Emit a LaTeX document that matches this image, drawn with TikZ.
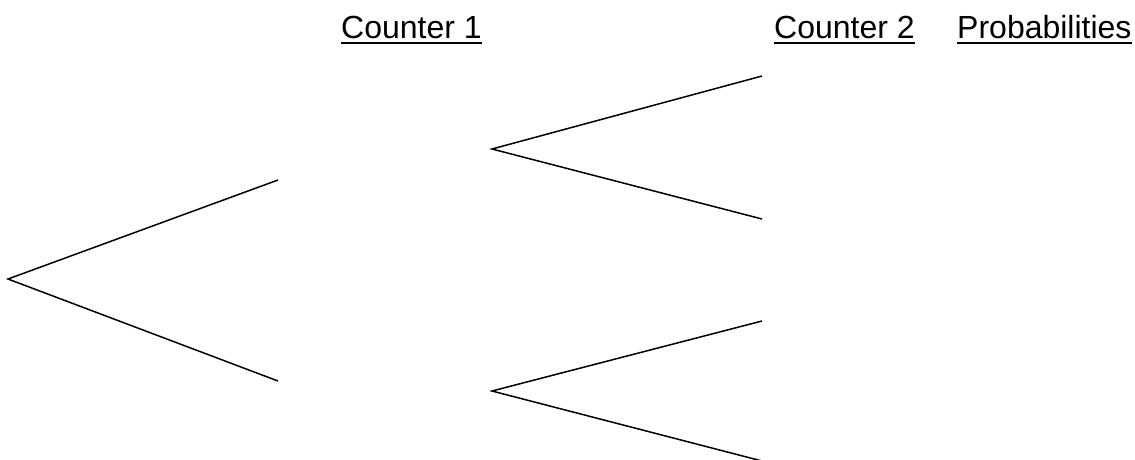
\documentclass[tikz,border=0pt]{standalone}
\usepackage{fontspec}
\setmainfont{Liberation Sans}
\begin{document}
\begin{tikzpicture}[x=1pt,y=-1pt,
  branch/.style={line width=1.5pt},
  head/.style={inner sep=0pt,anchor=base west,font=\fontsize{32}{38}\selectfont},
  uline/.style={line width=2.2pt}]
\useasboundingbox (0,0) rectangle (1135,459);
\clip (0,0) rectangle (1135,459);
% tree points
\coordinate (r) at (8,279);
\coordinate (a) at (278,180);
\coordinate (b) at (278,381);
\coordinate (a0) at (492,149);
\coordinate (b0) at (492,391);
\coordinate (a1) at (762,76);
\coordinate (a2) at (762,219);
\coordinate (b1) at (762,321);
\coordinate (b2) at (762,461);
\draw[branch] (a) -- (r) -- (b);
\draw[branch] (a1) -- (a0) -- (a2);
\draw[branch] (b1) -- (b0) -- (b2);
% headers
\node[head] (c1) at (341,38) {Counter 1};
\node[head] (c2) at (774,38) {Counter 2};
\node[head] (pr) at (957,38) {Probabilities};
\foreach \n in {c1,c2,pr}
  \draw[uline] ([yshift=-5pt]\n.base west) -- ([yshift=-5pt]\n.base east);
\end{tikzpicture}
\end{document}
